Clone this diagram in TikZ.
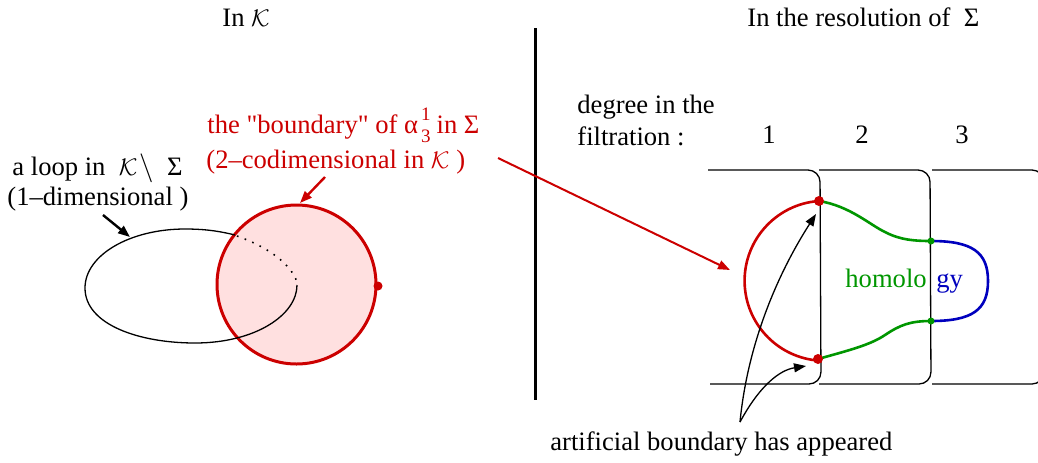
\documentclass[tikz,border=0pt]{standalone}
\usepackage{fontspec}
\setmainfont{Liberation Serif}
\newfontfamily\qfont{Liberation Serif}
\usetikzlibrary{arrows.meta}
\definecolor{myred}{RGB}{204,0,0}
\definecolor{mypink}{RGB}{255,224,224}
\definecolor{mygreen}{RGB}{0,150,0}
\definecolor{myblue}{RGB}{0,0,190}
\newcommand{\calK}{{\fontsize{11.5pt}{12pt}\selectfont$\mathcal{K}$}}
\newcommand{\scr}[1]{{\fontsize{9.5pt}{10pt}\selectfont #1}}
\begin{document}
\begin{tikzpicture}[x=0.5pt,y=-0.5pt,
  lbl/.style={inner sep=0pt, anchor=base west, font=\fontsize{13.3pt}{16pt}\selectfont},
  thinline/.style={line width=0.65pt},
  arr/.style={-{Triangle[length=6pt,width=4.5pt]}},
  bracket/.style={thinline, rounded corners=6pt},
  col/.style={line width=1.3pt},
  dotline/.style={line width=0.8pt, dash pattern=on 0.8pt off 3.3pt}]
\useasboundingbox (0,0) rectangle (1038,462);
\clip (0,0) rectangle (1038,462);

% titles
\node[lbl] (tl) at (222,26) {In \calK};
\node[lbl] (tr) at (747,26) {In the resolution of \ Σ};
\draw[line width=1.5pt] (535,28) -- (535,400);

% left labels
\node[lbl,text=myred] (b1) at (207,133) {the {\qfont"}boundary{\qfont"} of α\kern1.5pt\rlap{\raisebox{6.5pt}{\scr{1}}}\smash{\raisebox{-4.5pt}{\scr{3}}}\kern3pt in Σ};
\node[lbl,text=myred] (b2) at (206,168) {(2--codimensional in \calK\ )};
\node[lbl] (l1) at (12,175) {a loop in \ \calK\kern1pt$\setminus$ \ Σ};
\node[lbl] (l2) at (7,205) {(1--dimensional )};

% left circle and loop
\draw[myred, line width=1.5pt, fill=mypink] (296.5,284.5) circle[radius=79.5];
\fill[myred] (378,286) circle[radius=4.5];
\draw[thinline] (235,235) .. controls (215,230) and (200,229) .. (185,229)
  .. controls (130,229) and (85,255) .. (85,288)
  .. controls (85,325) and (140,343) .. (195,343)
  .. controls (255,343) and (297,315) .. (297,285);
\draw[dotline] (237,236) .. controls (265,246) and (290,262) .. (297,282);

\coordinate (ra1) at (325,177);
\coordinate (ra2) at (300,203);
\draw[myred, line width=1.2pt, arr] (ra1) -- (ra2);
\coordinate (la1) at (103,215);
\coordinate (la2) at (130,237);
\draw[line width=1.2pt, arr] (la1) -- (la2);
\coordinate (lr1) at (498,158);
\coordinate (lr2) at (730,270);
\draw[myred, line width=1pt, arr] (lr1) -- (lr2);

% right part labels
\node[lbl] (d1) at (577,113) {degree in the};
\node[lbl] (d2) at (577,145) {filtration :};
\node[lbl] (n1) at (762,143) {1};
\node[lbl] (n2) at (855,143) {2};
\node[lbl] (n3) at (955,143) {3};

% brackets
\draw[bracket] (708,170) -- (820,170) -- (821,384) -- (710,384);
\draw[bracket] (819,170) -- (930,170) -- (931,384) -- (819,384);
\draw[bracket] (932,170) -- (1044,170) -- (1044,384) -- (932,384);

% coloured curves
\coordinate (rt) at (819,201);
\coordinate (rb) at (818,359);
\coordinate (gt) at (931,241);
\coordinate (gb) at (931,321);
\draw[myred, col] (rt) arc[start angle=-94, end angle=-266, radius=80];
\draw[mygreen, col] (rt) .. controls (850,206) and (870,225) .. (885,232)
  .. controls (900,240) and (915,241) .. (gt);
\draw[mygreen, col] (rb) .. controls (850,350) and (870,345) .. (885,335)
  .. controls (900,325) and (910,321) .. (gb);
\draw[myblue, col] (gt) .. controls (972,241) and (988,252) .. (988,281)
  .. controls (988,310) and (972,321) .. (gb);
\fill[myred] (rt) circle[radius=5];
\fill[myred] (rb) circle[radius=5];
\fill[mygreen] (gt) circle[radius=3.5];
\fill[mygreen] (gb) circle[radius=3.5];

\node[lbl,text=mygreen] (h1) at (845,287) {homolo};
\node[lbl,text=myblue] (h2) at (936,287) {gy};

% artificial boundary
\node[lbl] (art) at (550,450) {artificial boundary has appeared};
\coordinate (as) at (740,422);
\coordinate (at1) at (816,214);
\coordinate (at2) at (806,366);
\draw[thinline, arr] (as) .. controls (748,340) and (780,270) .. (at1);
\draw[thinline, arr] (as) .. controls (760,385) and (780,370) .. (at2);
\end{tikzpicture}
\end{document}
